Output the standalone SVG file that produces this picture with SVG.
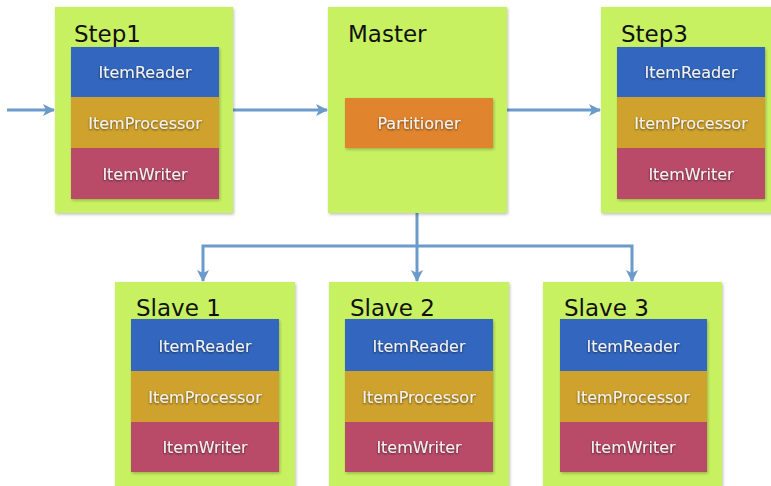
<svg xmlns="http://www.w3.org/2000/svg" width="771" height="486" viewBox="0 0 771 486">
<defs>
<filter id="sh" x="-10%" y="-10%" width="120%" height="120%"><feDropShadow dx="1" dy="1.5" stdDeviation="1.5" flood-color="#000" flood-opacity="0.25"/></filter>
<filter id="ts" x="-10%" y="-30%" width="120%" height="160%"><feDropShadow dx="0" dy="1" stdDeviation="1" flood-color="#000" flood-opacity="0.6"/></filter>
<marker id="ah" viewBox="0 0 12 12" refX="11" refY="6" markerWidth="12" markerHeight="12" markerUnits="userSpaceOnUse" orient="auto">
<path d="M0,0 L12,6 L0,12 L3,6 Z" fill="#6a9bcb"/>
</marker>
</defs>
<style>
.box{fill:#c8f162;filter:url(#sh)}
.rd{fill:#3266bf}
.pr{fill:#cfa22f}
.wr{fill:#b94b69}
.pa{fill:#e0852f;filter:url(#sh)}
.ttl{font-family:"DejaVu Sans",sans-serif;font-size:23px;fill:#111}
.lbl{font-family:"DejaVu Sans",sans-serif;font-size:16px;fill:#f2f2f2;text-anchor:middle;filter:url(#ts)}
.con{fill:none;stroke:#6a9bcb;stroke-width:3}
</style>
<rect width="771" height="486" fill="#fff"/>
<g id="connectors">
<line class="con" x1="7" y1="110" x2="54" y2="110" marker-end="url(#ah)"/>
<line class="con" x1="233" y1="110" x2="327" y2="110" marker-end="url(#ah)"/>
<line class="con" x1="507" y1="110" x2="600" y2="110" marker-end="url(#ah)"/>
<polyline class="con" points="417,213 417,246"/>
<polyline class="con" points="417,246 203,246 203,281" marker-end="url(#ah)"/>
<polyline class="con" points="417,246 417,281" marker-end="url(#ah)"/>
<polyline class="con" points="417,246 632,246 632,281" marker-end="url(#ah)"/>
</g>
<g id="step1">
<rect class="box" x="55" y="7" width="178" height="206"/>
<text class="ttl" x="74" y="42">Step1</text>
<g filter="url(#sh)">
<rect class="rd" x="71" y="47" width="148" height="50"/>
<rect class="pr" x="71" y="97" width="148" height="51"/>
<rect class="wr" x="71" y="148" width="148" height="51"/>
</g>
<text class="lbl" x="145" y="78">ItemReader</text>
<text class="lbl" x="145" y="129">ItemProcessor</text>
<text class="lbl" x="145" y="180">ItemWriter</text>
</g>
<g id="master">
<rect class="box" x="328" y="7" width="179" height="206"/>
<text class="ttl" x="348" y="42">Master</text>
<rect class="pa" x="345" y="98" width="148" height="50"/>
<text class="lbl" x="419" y="129">Partitioner</text>
</g>
<g id="step3">
<rect class="box" x="601" y="7" width="172" height="206"/>
<text class="ttl" x="621" y="42">Step3</text>
<g filter="url(#sh)">
<rect class="rd" x="617" y="47" width="148" height="50"/>
<rect class="pr" x="617" y="97" width="148" height="51"/>
<rect class="wr" x="617" y="148" width="148" height="51"/>
</g>
<text class="lbl" x="691" y="78">ItemReader</text>
<text class="lbl" x="691" y="129">ItemProcessor</text>
<text class="lbl" x="691" y="180">ItemWriter</text>
</g>
<g id="slave1">
<rect class="box" x="115" y="282" width="180" height="210"/>
<text class="ttl" x="136" y="316">Slave 1</text>
<g filter="url(#sh)">
<rect class="rd" x="131" y="319" width="148" height="52"/>
<rect class="pr" x="131" y="371" width="148" height="51"/>
<rect class="wr" x="131" y="422" width="148" height="50"/>
</g>
<text class="lbl" x="205" y="352">ItemReader</text>
<text class="lbl" x="205" y="403">ItemProcessor</text>
<text class="lbl" x="205" y="453">ItemWriter</text>
</g>
<g id="slave2">
<rect class="box" x="329" y="282" width="180" height="210"/>
<text class="ttl" x="350" y="316">Slave 2</text>
<g filter="url(#sh)">
<rect class="rd" x="345" y="319" width="148" height="52"/>
<rect class="pr" x="345" y="371" width="148" height="51"/>
<rect class="wr" x="345" y="422" width="148" height="50"/>
</g>
<text class="lbl" x="419" y="352">ItemReader</text>
<text class="lbl" x="419" y="403">ItemProcessor</text>
<text class="lbl" x="419" y="453">ItemWriter</text>
</g>
<g id="slave3">
<rect class="box" x="543" y="282" width="179" height="210"/>
<text class="ttl" x="564" y="316">Slave 3</text>
<g filter="url(#sh)">
<rect class="rd" x="560" y="319" width="147" height="52"/>
<rect class="pr" x="560" y="371" width="147" height="51"/>
<rect class="wr" x="560" y="422" width="147" height="50"/>
</g>
<text class="lbl" x="633" y="352">ItemReader</text>
<text class="lbl" x="633" y="403">ItemProcessor</text>
<text class="lbl" x="633" y="453">ItemWriter</text>
</g>
</svg>
